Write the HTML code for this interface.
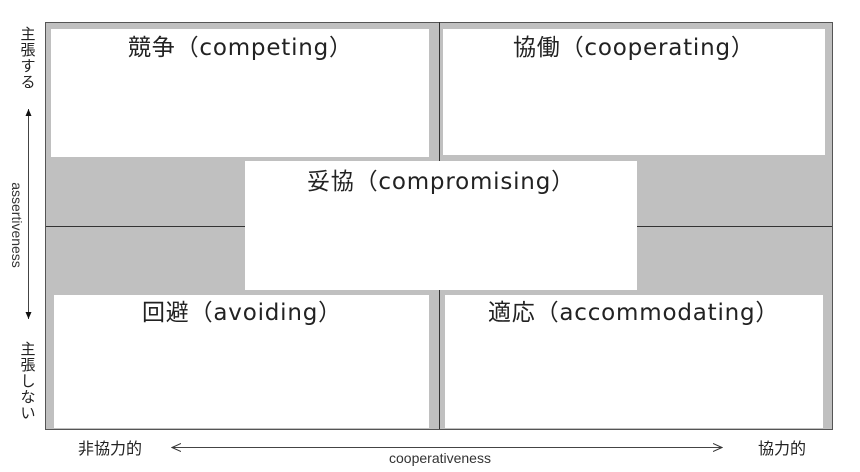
<!DOCTYPE html>
<html><head><meta charset="utf-8"><style>
body{margin:0;width:860px;height:472px;background:#fff;position:relative;overflow:hidden;font-family:"Liberation Sans","Noto Sans CJK JP",sans-serif;color:#222}
div{position:absolute;box-sizing:border-box}
.w{background:#fff}
.t{font-family:"DejaVu Sans","Noto Sans CJK JP",sans-serif;font-size:23px;letter-spacing:0.8px;white-space:nowrap;line-height:1}
.v{font-size:15px;line-height:16px;width:20px;text-align:center}
</style></head><body>
<div style="left:45px;top:22px;width:788px;height:408px;background:#c0c0c0;border:1.5px solid #555"></div>
<div style="left:439px;top:22px;width:1px;height:407px;background:#333"></div>
<div style="left:46px;top:226px;width:786px;height:1px;background:#333"></div>
<div class="w" style="left:51px;top:29px;width:378px;height:128px"></div>
<div class="w" style="left:443px;top:29px;width:382px;height:126px"></div>
<div class="w" style="left:245px;top:161px;width:392px;height:129px"></div>
<div class="w" style="left:54px;top:295px;width:375px;height:133px"></div>
<div class="w" style="left:445px;top:295px;width:378px;height:133px"></div>
<div class="t" style="left:128px;top:37px">競争（competing）</div>
<div class="t" style="left:513px;top:37px">協働（cooperating）</div>
<div class="t" style="left:307px;top:171px">妥協（compromising）</div>
<div class="t" style="left:142px;top:302px">回避（avoiding）</div>
<div class="t" style="left:488px;top:302px">適応（accommodating）</div>
<div class="v" style="left:18px;top:27px">主張する</div>
<div class="v" style="left:18px;top:342px">主張しない</div>
<svg style="position:absolute;left:0;top:0" width="860" height="472">
<defs><marker id="a" markerWidth="8" markerHeight="8" refX="7" refY="4" orient="auto"><path d="M0,1 L7,4 L0,7z" fill="#111"/></marker>
<marker id="b" markerWidth="10" markerHeight="10" refX="9" refY="5" orient="auto"><path d="M0,1 L9,5 L0,9" fill="none" stroke="#333"/></marker></defs>
<line x1="28.5" y1="210" x2="28.5" y2="109" stroke="#444" marker-end="url(#a)"/>
<line x1="28.5" y1="210" x2="28.5" y2="319" stroke="#444" marker-end="url(#a)"/>
<line x1="446" y1="447.5" x2="172" y2="447.5" stroke="#444" marker-end="url(#b)"/>
<line x1="446" y1="447.5" x2="722" y2="447.5" stroke="#444" marker-end="url(#b)"/>
<text x="0" y="0" transform="translate(12,225) rotate(90)" text-anchor="middle" font-size="14" fill="#333" font-family="Liberation Sans,sans-serif">assertiveness</text>
<text x="440" y="463" text-anchor="middle" font-size="14" fill="#333" font-family="Liberation Sans,sans-serif">cooperativeness</text>
</svg>
<div style="left:78px;top:441px;font-size:16px;line-height:18px">非協力的</div>
<div style="left:758px;top:441px;font-size:16px;line-height:18px">協力的</div>
</body></html>
